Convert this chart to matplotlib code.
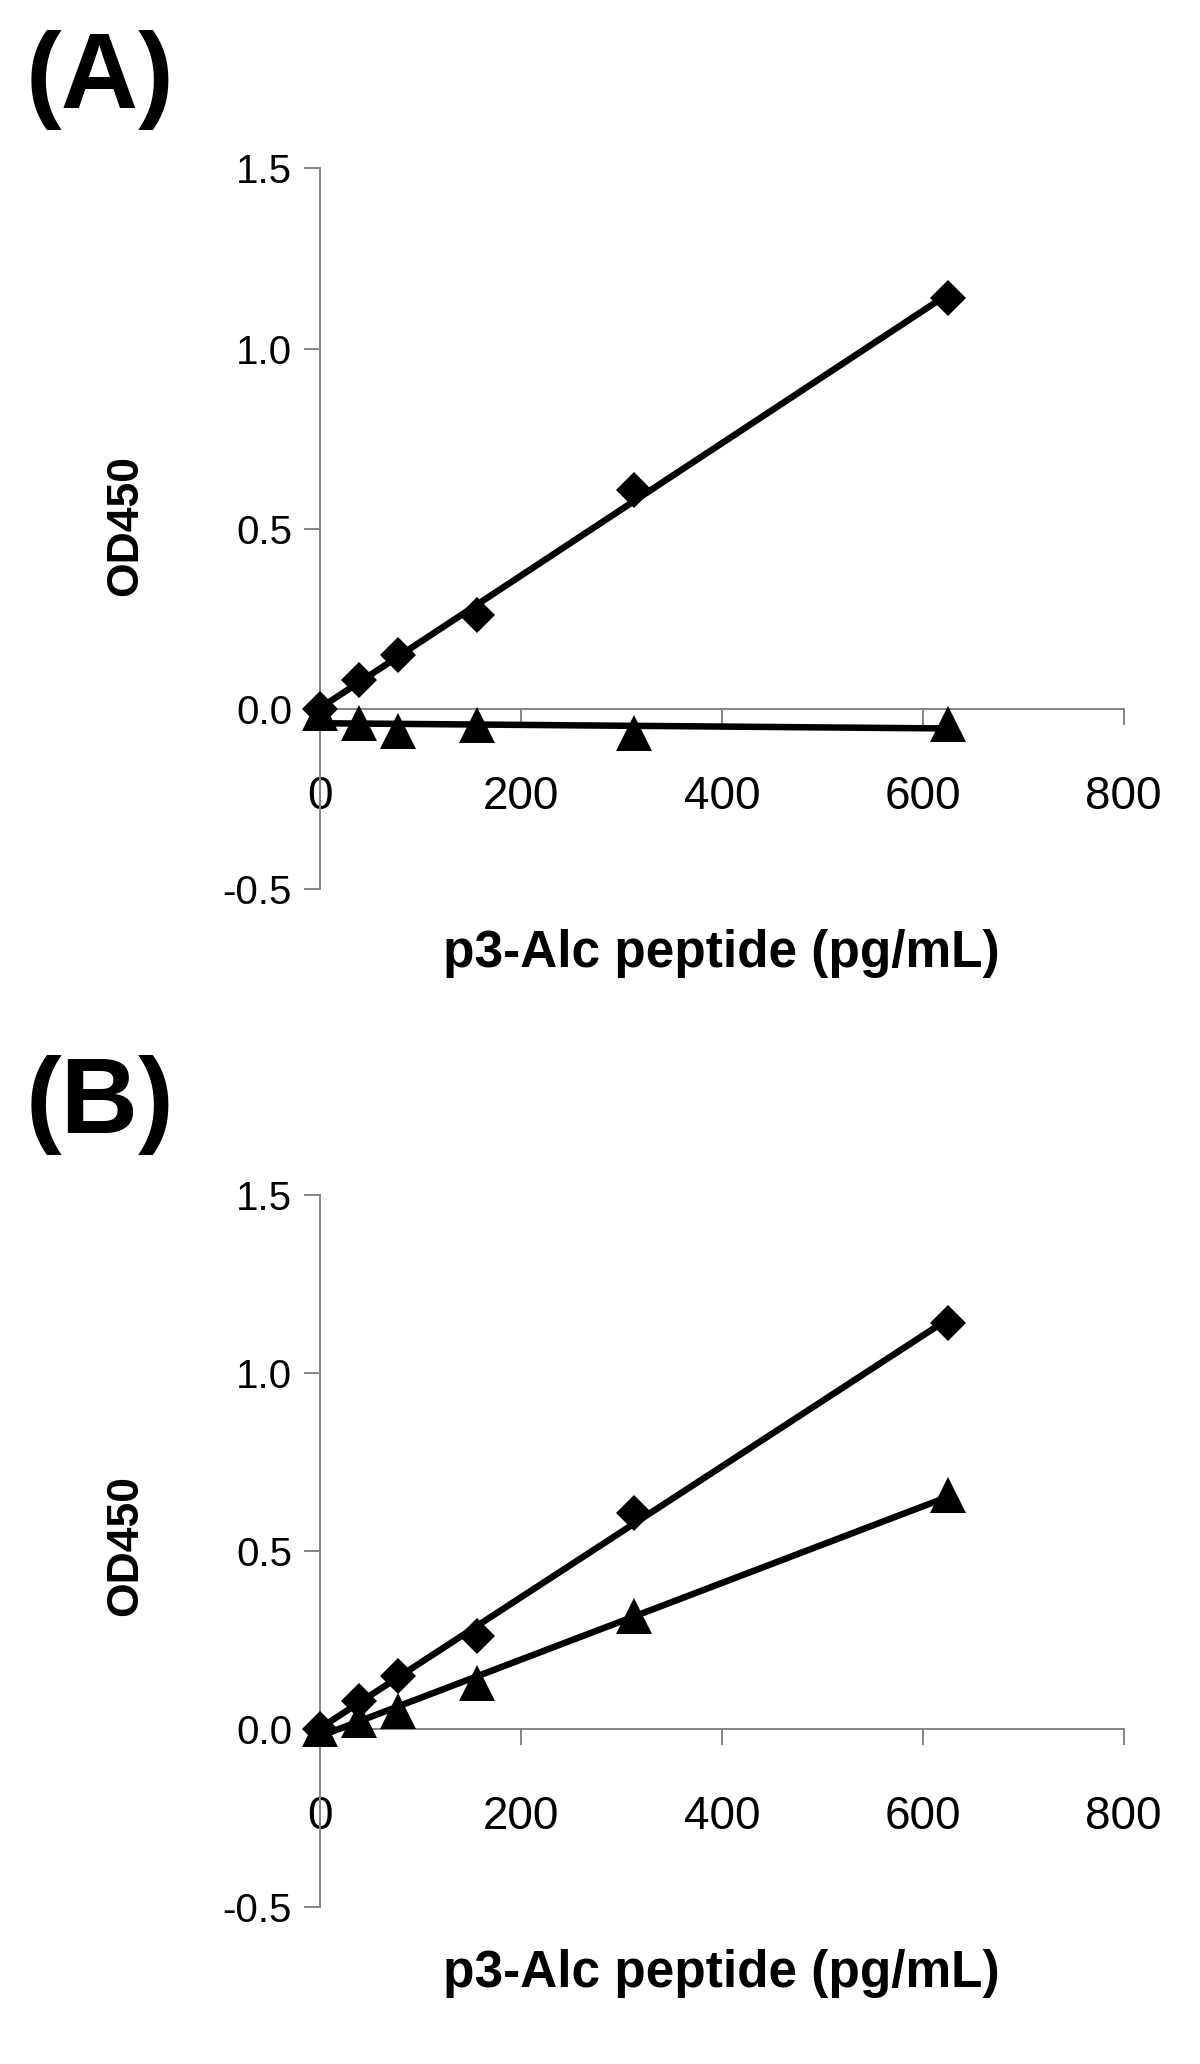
import numpy as np
import matplotlib
matplotlib.use("Agg")
import matplotlib.pyplot as plt

plt.rcParams['font.family'] = ['Liberation Sans', 'DejaVu Sans']

# Data
conc = [0, 39.06, 78.125, 156.25, 312.5, 625]
a_diamond = [0.0, 0.080, 0.149, 0.262, 0.608, 1.141]
a_triangle = [-0.01, -0.04, -0.062, -0.045, -0.066, -0.041]
b_diamond = [0.0, 0.080, 0.149, 0.262, 0.608, 1.141]
b_triangle = [0.0, 0.026, 0.052, 0.130, 0.318, 0.657]

x_ticks = [0, 200, 400, 600, 800]
y_ticks = [-0.5, 0.0, 0.5, 1.0, 1.5]
y_tick_labels = ['-0.5', '0.0', '0.5', '1.0', '1.5']
x_label = 'p3-Alc peptide (pg/mL)'
y_label = 'OD450'
panel_labels = ['(A)', '(B)']

W, H = 1200, 2064
fig = plt.figure(figsize=(W / 100, H / 100), dpi=100)

gray = '#868686'
px = 72 / 100.0  # points per pixel


def make_panel(rect, diam, tri, label_y):
    ax = fig.add_axes(rect)
    ax.set_xlim(0, 800)
    ax.set_ylim(-0.5, 1.5)
    for sp in ['top', 'right']:
        ax.spines[sp].set_visible(False)
    ax.spines['bottom'].set_position(('data', 0))
    for sp in ['left', 'bottom']:
        ax.spines[sp].set_color(gray)
        ax.spines[sp].set_linewidth(2 * px)
    ax.set_xticks(x_ticks)
    ax.set_xticklabels([str(t) for t in x_ticks])
    ax.set_yticks(y_ticks)
    ax.set_yticklabels(y_tick_labels)
    ax.tick_params(axis='x', direction='out', length=16 * px, width=2 * px,
                   color=gray, pad=50 * px, labelsize=33)
    ax.tick_params(axis='y', direction='out', length=16 * px, width=2 * px,
                   color=gray, pad=12 * px, labelsize=29)

    xs = np.array(conc)
    xfit = np.array([0, 625])
    for ys, mk, ms in [(diam, 'D', 18.5), (tri, '^', 26)]:
        p = np.polyfit(xs, ys, 1)
        ax.plot(xfit, np.polyval(p, xfit), color='black', lw=6.5 * px,
                solid_capstyle='butt', zorder=3, clip_on=False)
        ax.plot(xs, ys, linestyle='none', marker=mk, ms=ms, color='black',
                mec='black', mew=0, zorder=4, clip_on=False)

    fig.text(721 / W, 1 - label_y / H, x_label, ha='center', va='center',
             fontsize=37, fontweight='bold')
    return ax


axA = make_panel([320 / W, 1 - 889.3 / H, 803.7 / W, 721.0 / H],
                 a_diamond, a_triangle, 954)
axB = make_panel([320 / W, 1 - 1907.3 / H, 803.7 / W, 712.6 / H],
                 b_diamond, b_triangle, 1974)

for yc in [526, 1545]:
    fig.text(126 / W, 1 - yc / H, y_label, rotation=90, ha='center',
             va='center', fontsize=32, fontweight='bold')

fig.text(26 / W, 1 - 80 / H, panel_labels[0], ha='left', va='center',
         fontsize=77, fontweight='bold')
fig.text(26 / W, 1 - 1105 / H, panel_labels[1], ha='left', va='center',
         fontsize=77, fontweight='bold')

fig.savefig('out.png', dpi=100, facecolor='white')
